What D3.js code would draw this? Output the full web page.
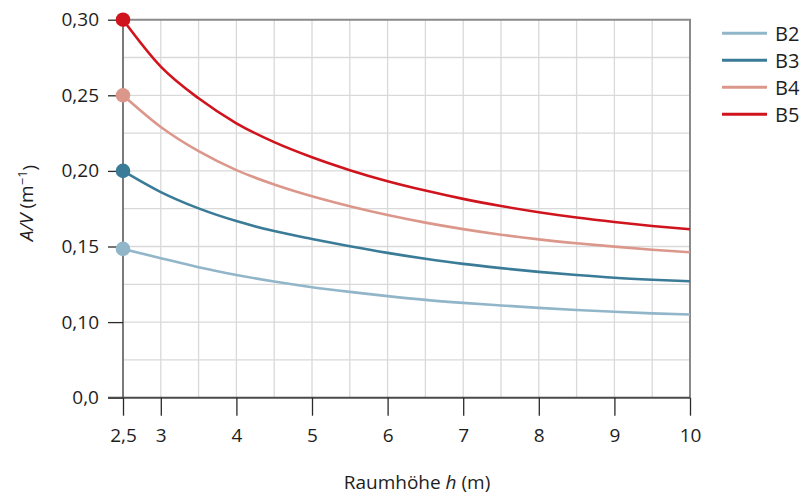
<!DOCTYPE html>
<html>
<head>
<meta charset="utf-8">
<script src="https://cdn.jsdelivr.net/npm/d3@7"></script>
<style>
  body { margin: 0; background: #fff; }
  svg text { font-family: "Open Sans", sans-serif; fill: #1e1e1e; }
</style>
</head>
<body>
<div id="chart"></div>
<script>
// Raumhöhe h (m)
const heights = [2.5, 3, 3.5, 4, 4.5, 5, 5.5, 6, 6.5, 7, 7.5, 8, 8.5, 9, 9.5, 10];

// A/V (1/m)
const b2 = [0.1484, 0.1423, 0.1363, 0.1312, 0.1268, 0.1231, 0.1200, 0.1172, 0.1147, 0.1127, 0.1110, 0.1094, 0.1080, 0.1068, 0.1058, 0.1050];
const b3 = [0.2000, 0.1860, 0.1752, 0.1668, 0.1602, 0.1550, 0.1502, 0.1458, 0.1419, 0.1385, 0.1357, 0.1332, 0.1311, 0.1293, 0.1280, 0.1270];
const b4 = [0.2500, 0.2290, 0.2130, 0.2005, 0.1910, 0.1832, 0.1766, 0.1708, 0.1658, 0.1615, 0.1578, 0.1547, 0.1521, 0.1499, 0.1479, 0.1462];
const b5 = [0.3000, 0.2690, 0.2480, 0.2315, 0.2190, 0.2090, 0.2005, 0.1932, 0.1870, 0.1815, 0.1768, 0.1727, 0.1692, 0.1662, 0.1636, 0.1614];

const seriesNames = ["B2", "B3", "B4", "B5"];
const seriesColors = ["#92b6c9", "#3a7b97", "#dc978b", "#d0141d"];

const xTicks = [2.5, 3, 4, 5, 6, 7, 8, 9, 10];
const xTickLabels = ["2,5", "3", "4", "5", "6", "7", "8", "9", "10"];
// the axis is broken: the bottom line carries the label 0,0
const yTicks = [0.05, 0.10, 0.15, 0.20, 0.25, 0.30];
const yTickLabels = ["0,0", "0,10", "0,15", "0,20", "0,25", "0,30"];
const xGrid = d3.range(3, 10, 0.5);
const yGrid = d3.range(0.075, 0.2999, 0.025);

const width = 805, height = 495;
const margin = { top: 19.7, right: 115, bottom: 97.3, left: 123 };

const svg = d3.select("#chart")
    .append("svg")
    .attr("width", width)
    .attr("height", height);

const x = d3.scaleLinear().domain([2.5, 10]).range([margin.left, width - margin.right]);
const y = d3.scaleLinear().domain([0.05, 0.30]).range([height - margin.bottom, margin.top]);

// grid
svg.append("g")
    .selectAll("line")
    .data(xGrid)
    .join("line")
    .attr("x1", d => x(d)).attr("x2", d => x(d))
    .attr("y1", y(0.05)).attr("y2", y(0.30))
    .attr("stroke", "#d9d9d9").attr("stroke-width", 1.3);

svg.append("g")
    .selectAll("line")
    .data(yGrid)
    .join("line")
    .attr("x1", x(2.5)).attr("x2", x(10))
    .attr("y1", d => y(d)).attr("y2", d => y(d))
    .attr("stroke", "#d9d9d9").attr("stroke-width", 1.3);

// frame top / right
svg.append("path")
    .attr("d", `M${x(2.5)},${y(0.30)}H${x(10)}V${y(0.05)}`)
    .attr("fill", "none")
    .attr("stroke", "#8a8a8a")
    .attr("stroke-width", 2);

// axes
const yAxis = d3.axisLeft(y)
    .tickValues(yTicks)
    .tickFormat((d, i) => yTickLabels[i])
    .tickSize(15)
    .tickPadding(9);

const gy = svg.append("g")
    .attr("transform", `translate(${margin.left},0)`)
    .call(yAxis);
gy.select(".domain").attr("stroke", "#7a7a7a").attr("stroke-width", 2)
    .attr("d", `M0,${y(0.05)}V${y(0.30)}`);
gy.selectAll(".tick line").attr("stroke", "#2a2a2a").attr("stroke-width", 1.3);
gy.selectAll(".tick text").style("font-size", "19px");

const xAxis = d3.axisBottom(x)
    .tickValues(xTicks)
    .tickFormat((d, i) => xTickLabels[i])
    .tickSize(18)
    .tickPadding(13);

const gx = svg.append("g")
    .attr("transform", `translate(0,${y(0.05)})`)
    .call(xAxis);
gx.select(".domain").attr("stroke", "#4a4a4a").attr("stroke-width", 2)
    .attr("d", `M${x(2.5) - 15},0H${x(10)}`);
gx.selectAll(".tick line").attr("stroke", "#2a2a2a").attr("stroke-width", 1.3);
gx.selectAll(".tick text").style("font-size", "19px");

// curves
const allSeries = [b2, b3, b4, b5];
const line = d3.line()
    .curve(d3.curveMonotoneX)
    .x((d, i) => x(heights[i]))
    .y(d => y(d));

allSeries.forEach((s, k) => {
    svg.append("path")
        .datum(s)
        .attr("d", line)
        .attr("fill", "none")
        .attr("stroke", seriesColors[k])
        .attr("stroke-width", 2.6);
    svg.append("circle")
        .attr("cx", x(heights[0]))
        .attr("cy", y(s[0]))
        .attr("r", 7.3)
        .attr("fill", seriesColors[k]);
});

// legend
const legend = svg.append("g")
    .attr("transform", "translate(722,33.3)");
seriesNames.forEach((name, k) => {
    let row = legend.append("g").attr("transform", `translate(0,${k * 27})`);
    row.append("line")
        .attr("x1", 0).attr("x2", 45)
        .attr("stroke", seriesColors[k])
        .attr("stroke-width", 3);
    row.append("text")
        .attr("x", 53)
        .attr("y", 7.4)
        .style("font-size", "20px")
        .text(name);
});

// axis titles
const xt = svg.append("text")
    .attr("x", 417)
    .attr("y", 489)
    .attr("text-anchor", "middle")
    .style("font-size", "19px");
xt.append("tspan").text("Raumhöhe ");
xt.append("tspan").style("font-style", "italic").text("h");
xt.append("tspan").text(" (m)");

const yt = svg.append("text")
    .attr("transform", "translate(33,203) rotate(-90)")
    .attr("text-anchor", "middle")
    .style("font-size", "19px");
yt.append("tspan").style("font-style", "italic").text("A/V");
yt.append("tspan").text(" (m");
yt.append("tspan").attr("dy", "-0.45em").style("font-size", "13px").text("−1");
yt.append("tspan").attr("dy", "0.45em").text(")");
</script>
</body>
</html>
